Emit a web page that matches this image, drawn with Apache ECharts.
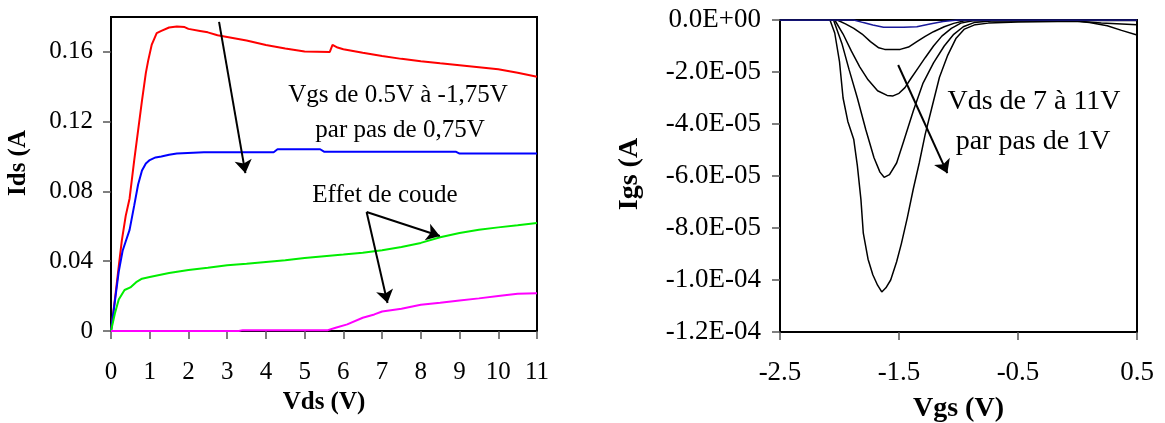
<!DOCTYPE html>
<html><head><meta charset="utf-8">
<script src="https://cdn.jsdelivr.net/npm/echarts@6/dist/echarts.min.js"></script>
<style>html,body{margin:0;padding:0;background:#fff}#c{width:1165px;height:423px}</style>
</head><body><div id="c"></div>
<script>
// ---------- Left chart: Ids(Vds) ----------
const idsTickValues = [0, 0.04, 0.08, 0.12, 0.16];
const idsTickLabels = ['0', '0.04', '0.08', '0.12', '0.16'];
const vdsTickValues = [0,1,2,3,4,5,6,7,8,9,10,11];

const redVds = [0,0.1,0.2,0.28,0.38,0.48,0.6,0.7,0.8,0.9,0.96,1.05,1.18,1.3,1.5,1.7,1.9,2.0,2.3,2.5,2.75,3,3.5,4,4.5,5,5.65,5.72,5.85,6,6.5,7,7.5,8,8.5,9,9.5,10,10.5,11];
const redIds = [0,0.018,0.037,0.052,0.066,0.076,0.098,0.115,0.132,0.148,0.155,0.164,0.1707,0.172,0.174,0.1745,0.1742,0.1732,0.172,0.1712,0.1695,0.1685,0.1665,0.164,0.162,0.1602,0.160,0.164,0.1625,0.1615,0.1595,0.1577,0.156,0.1547,0.1535,0.1524,0.1512,0.150,0.148,0.1458];

const blueVds = [0,0.1,0.2,0.3,0.39,0.48,0.6,0.7,0.8,0.9,1.0,1.15,1.3,1.5,1.7,2.4,4.2,4.3,5.4,5.5,8.9,9.0,11];
const blueIds = [0,0.017,0.034,0.046,0.052,0.058,0.072,0.084,0.092,0.096,0.098,0.0995,0.100,0.101,0.1017,0.1025,0.1025,0.1042,0.1042,0.1028,0.1028,0.1017,0.1017];

const greenVds = [0,0.1,0.2,0.35,0.5,0.65,0.8,1,1.5,2,2.5,3,3.5,4,4.5,5,5.5,6,6.5,7,7.5,8,8.5,9,9.5,10,10.5,11];
const greenIds = [0,0.010,0.018,0.0235,0.025,0.028,0.030,0.031,0.0333,0.035,0.0362,0.0377,0.0385,0.0396,0.0406,0.0419,0.0429,0.0438,0.0448,0.0463,0.0482,0.0505,0.0537,0.0562,0.058,0.0594,0.0606,0.0619];

const magVds = [0,3.3,3.4,5.6,5.8,6.1,6.5,6.8,7,7.5,8,8.5,9,9.5,10,10.5,11];
const magIds = [0,0,0.0005,0.0005,0.0019,0.0038,0.0076,0.0095,0.0112,0.0128,0.015,0.0162,0.0175,0.0187,0.020,0.0213,0.0217];

// ---------- Right chart: Igs(Vgs) ----------
const vgsTickValues = [-2.5, -1.5, -0.5, 0.5];
const vgsTickLabels = ['-2.5', '-1.5', '-0.5', '0.5'];
const igsTickValues = [0, -2e-5, -4e-5, -6e-5, -8e-5, -1e-4, -1.2e-4];
const igsTickLabels = ['0.0E+00','-2.0E-05','-4.0E-05','-6.0E-05','-8.0E-05','-1.0E-04','-1.2E-04'];

const igsVds7 = [[-2.5,0],[-1.88,0],[-1.80,-1.0e-6],[-1.72,-1.9e-6],[-1.63,-2.8e-6],[-1.46,-2.8e-6],[-1.35,-2.6e-6],[-1.24,-1.5e-6],[-1.13,-6e-7],[-1.01,0],[0.5,0]];
const igsVds8 = [[-2.5,0],[-2.02,0],[-1.95,-1.5e-6],[-1.88,-3.2e-6],[-1.81,-5.4e-6],[-1.74,-8.3e-6],[-1.67,-1.07e-5],[-1.62,-1.13e-5],[-1.49,-1.13e-5],[-1.42,-1.04e-5],[-1.35,-8.3e-6],[-1.28,-6.3e-6],[-1.21,-4.5e-6],[-1.12,-2.6e-6],[-1.04,-1.3e-6],[-0.95,-3e-7],[-0.8,0],[0.5,0]];
const igsVds9 = [[-2.5,0],[-2.04,0],[-1.97,-5.4e-6],[-1.90,-1.2e-5],[-1.83,-1.8e-5],[-1.76,-2.3e-5],[-1.68,-2.72e-5],[-1.60,-2.9e-5],[-1.55,-2.92e-5],[-1.50,-2.82e-5],[-1.45,-2.6e-5],[-1.40,-2.25e-5],[-1.34,-1.85e-5],[-1.28,-1.45e-5],[-1.21,-1.0e-5],[-1.14,-6.2e-6],[-1.06,-3.2e-6],[-0.98,-1.2e-6],[-0.88,-3e-7],[-0.5,-2e-7],[0.5,-2e-7]];
const igsVds10 = [[-2.5,0],[-2.05,0],[-1.98,-9e-6],[-1.92,-1.9e-5],[-1.85,-3.0e-5],[-1.78,-4.2e-5],[-1.71,-5.3e-5],[-1.66,-5.85e-5],[-1.625,-6.05e-5],[-1.58,-5.95e-5],[-1.52,-5.5e-5],[-1.46,-4.65e-5],[-1.38,-3.5e-5],[-1.30,-2.45e-5],[-1.21,-1.65e-5],[-1.12,-1.0e-5],[-1.04,-5.5e-6],[-0.96,-2.6e-6],[-0.87,-1.0e-6],[-0.7,-3e-7],[0.0,-5e-7],[0.2,-1.2e-6],[0.5,-1.8e-6]];
const igsVds11 = [[-2.5,0],[-2.08,0],[-2.04,-5e-6],[-2.00,-1.6e-5],[-1.97,-3.0e-5],[-1.93,-3.9e-5],[-1.88,-4.6e-5],[-1.85,-5.6e-5],[-1.82,-6.9e-5],[-1.80,-8.2e-5],[-1.76,-9.2e-5],[-1.72,-9.8e-5],[-1.68,-1.02e-4],[-1.645,-1.046e-4],[-1.61,-1.03e-4],[-1.57,-1.0e-4],[-1.52,-9.3e-5],[-1.48,-8.6e-5],[-1.43,-7.6e-5],[-1.38,-6.5e-5],[-1.33,-5.5e-5],[-1.28,-4.4e-5],[-1.22,-3.3e-5],[-1.16,-2.2e-5],[-1.09,-1.35e-5],[-1.02,-7e-6],[-0.95,-3.5e-6],[-0.86,-1.8e-6],[-0.75,-1.2e-6],[-0.5,-8e-7],[0.0,-5e-7],[0.1,-1.0e-6],[0.25,-2.2e-6],[0.37,-4.0e-6],[0.5,-5.8e-6]];

// annotation arrows (data coordinates)
const arrowVgsLeft = [[2.79, 0.1772], [3.47, 0.0905]];
const arrowCoude1 = [[6.6, 0.0682], [8.49, 0.0545]];
const arrowCoude2 = [[6.6, 0.0682], [7.14, 0.0160]];
const arrowVdsRight = [[-1.507, -1.73e-5], [-1.094, -5.89e-5]];

const FONT = "'Liberation Serif','Times New Roman',serif";
const zip = (xs, ys) => xs.map((x, i) => [x, ys[i]]);

function arrow(pts) {
  return [{ coord: pts[0], symbol: 'none' }, { coord: pts[1], symbol: 'arrow' }];
}

const axisLineStyle = { show: true, onZero: false, lineStyle: { color: '#000', width: 2 } };
const tickStyle = { show: true, inside: false, length: 8, lineStyle: { color: '#555', width: 1.5 } };

const chart = echarts.init(document.getElementById('c'), null, { renderer: 'canvas' });
chart.setOption({
  animation: false,
  backgroundColor: '#fff',
  textStyle: { fontFamily: FONT },
  grid: [
    { left: 111, top: 17, width: 426, height: 314, show: true, borderColor: '#000', borderWidth: 2, outerBoundsMode: 'none' },
    { left: 780, top: 20, width: 357, height: 312, show: true, borderColor: '#000', borderWidth: 2, outerBoundsMode: 'none' }
  ],
  xAxis: [
    { gridIndex: 0, type: 'value', min: 0, max: 11, interval: 1,
      axisLine: axisLineStyle, axisTick: Object.assign({ customValues: vdsTickValues }, tickStyle), splitLine: { show: false },
      axisLabel: { customValues: vdsTickValues, color: '#000', fontFamily: FONT, fontSize: 25, margin: 29 },
      name: 'Vds (V)', nameLocation: 'middle', nameGap: 58,
      nameTextStyle: { color: '#000', fontFamily: FONT, fontSize: 25, fontWeight: 'bold' } },
    { gridIndex: 1, type: 'value', min: -2.5, max: 0.5,
      axisLine: axisLineStyle, axisTick: Object.assign({ customValues: vgsTickValues }, tickStyle), splitLine: { show: false },
      axisLabel: { customValues: vgsTickValues, color: '#000', fontFamily: FONT, fontSize: 27, margin: 27,
        formatter: v => vgsTickLabels[Math.round(v + 2.5)] },
      name: 'Vgs (V)', nameLocation: 'middle', nameGap: 63,
      nameTextStyle: { color: '#000', fontFamily: FONT, fontSize: 28, fontWeight: 'bold' } }
  ],
  yAxis: [
    { gridIndex: 0, type: 'value', min: 0, max: 0.18,
      axisLine: axisLineStyle, axisTick: Object.assign({ customValues: idsTickValues }, tickStyle), splitLine: { show: false },
      axisLabel: { customValues: idsTickValues, color: '#000', fontFamily: FONT, fontSize: 25, margin: 18,
        formatter: v => idsTickLabels[Math.round(v / 0.04)] } },
    { gridIndex: 1, type: 'value', min: -1.2e-4, max: 0,
      axisLine: axisLineStyle, axisTick: Object.assign({ customValues: igsTickValues }, tickStyle), splitLine: { show: false },
      axisLabel: { customValues: igsTickValues, color: '#000', fontFamily: FONT, fontSize: 27, margin: 19,
        formatter: v => igsTickLabels[Math.round(-v / 2e-5)] } }
  ],
  series: [
    { type: 'line', xAxisIndex: 0, yAxisIndex: 0, data: zip(redVds, redIds), showSymbol: false,
      lineStyle: { color: '#ff0000', width: 2 }, itemStyle: { color: '#ff0000' },
      markLine: { silent: true, animation: false, symbolSize: 13, label: { show: false },
        lineStyle: { color: '#000', width: 2, type: 'solid' }, emphasis: { disabled: true },
        data: [arrow(arrowVgsLeft), arrow(arrowCoude1), arrow(arrowCoude2)] } },
    { type: 'line', xAxisIndex: 0, yAxisIndex: 0, data: zip(blueVds, blueIds), showSymbol: false,
      lineStyle: { color: '#0000ff', width: 2 } },
    { type: 'line', xAxisIndex: 0, yAxisIndex: 0, data: zip(greenVds, greenIds), showSymbol: false,
      lineStyle: { color: '#00ee00', width: 2 } },
    { type: 'line', xAxisIndex: 0, yAxisIndex: 0, data: zip(magVds, magIds), showSymbol: false,
      lineStyle: { color: '#ff00ff', width: 2 } },
    { type: 'line', xAxisIndex: 1, yAxisIndex: 1, data: igsVds11, showSymbol: false,
      lineStyle: { color: '#000', width: 1.5 },
      markLine: { silent: true, animation: false, symbolSize: 13, label: { show: false },
        lineStyle: { color: '#000', width: 2, type: 'solid' }, emphasis: { disabled: true },
        data: [arrow(arrowVdsRight)] } },
    { type: 'line', xAxisIndex: 1, yAxisIndex: 1, data: igsVds10, showSymbol: false, lineStyle: { color: '#000', width: 1.5 } },
    { type: 'line', xAxisIndex: 1, yAxisIndex: 1, data: igsVds9, showSymbol: false, lineStyle: { color: '#000', width: 1.5 } },
    { type: 'line', xAxisIndex: 1, yAxisIndex: 1, data: igsVds8, showSymbol: false, lineStyle: { color: '#000', width: 1.5 } },
    { type: 'line', xAxisIndex: 1, yAxisIndex: 1, data: igsVds7, showSymbol: false, lineStyle: { color: '#1a1a9a', width: 1.5 }, z: 3 }
  ],
  graphic: [
    { type: 'text', x: 19, y: 163, rotation: Math.PI / 2,
      style: { text: 'Ids (A', fontFamily: FONT, fontSize: 25, fontWeight: 'bold', fill: '#000', align: 'center', verticalAlign: 'middle' } },
    { type: 'text', x: 630, y: 174, rotation: Math.PI / 2,
      style: { text: 'Igs (A', fontFamily: FONT, fontSize: 28, fontWeight: 'bold', fill: '#000', align: 'center', verticalAlign: 'middle' } },
    { type: 'text', x: 398, y: 95,
      style: { text: 'Vgs de 0.5V à -1,75V', fontFamily: FONT, fontSize: 25, fill: '#000', align: 'center', verticalAlign: 'middle' } },
    { type: 'text', x: 400, y: 130,
      style: { text: 'par pas de 0,75V', fontFamily: FONT, fontSize: 25, fill: '#000', align: 'center', verticalAlign: 'middle' } },
    { type: 'text', x: 385, y: 195,
      style: { text: 'Effet de coude', fontFamily: FONT, fontSize: 25, fill: '#000', align: 'center', verticalAlign: 'middle' } },
    { type: 'text', x: 1034, y: 102,
      style: { text: 'Vds de 7 à 11V', fontFamily: FONT, fontSize: 28, fill: '#000', align: 'center', verticalAlign: 'middle' } },
    { type: 'text', x: 1033, y: 142,
      style: { text: 'par pas de 1V', fontFamily: FONT, fontSize: 28, fill: '#000', align: 'center', verticalAlign: 'middle' } }
  ]
});
</script>
</body></html>
